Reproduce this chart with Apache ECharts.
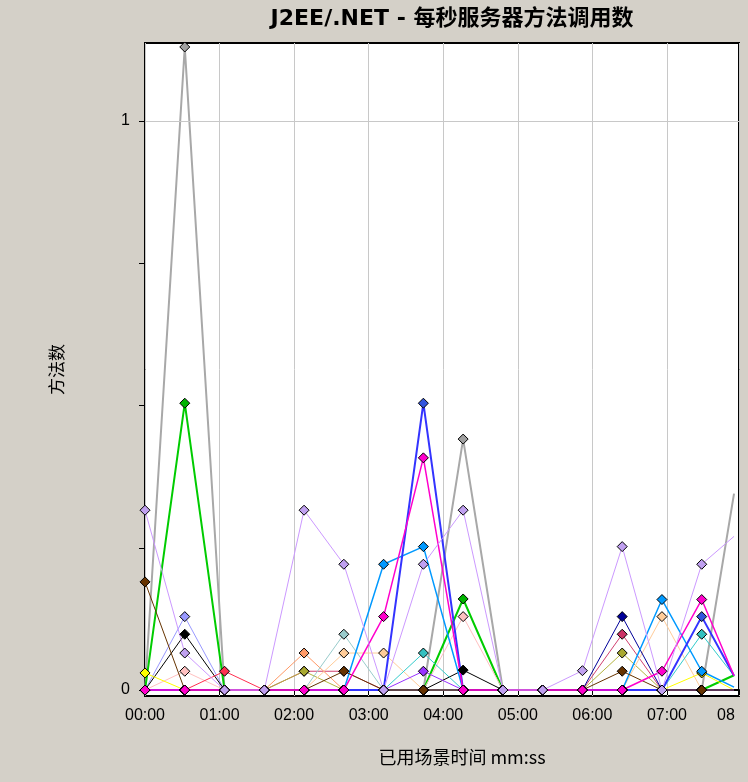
<!DOCTYPE html>
<html>
<head>
<meta charset="utf-8">
<script src="https://cdn.jsdelivr.net/npm/echarts@6/dist/echarts.min.js"></script>
<style>
html,body{margin:0;padding:0;background:#d4d0c8;}
#chart{width:748px;height:782px;}
</style>
</head>
<body>
<div id="chart"></div>
<script>
// elapsed time of each sample, in seconds
const times = [0, 32, 64, 96, 128, 160, 192, 224, 256, 288, 320, 352, 384, 416, 448, 474];
// y tick marks and tick labels
const yTicks = [0, 0.25, 0.5, 0.75, 1];
const yTickLabels = [0, 1];
const yGridLines = [1];
// series values (methods per second)
const grey       = [0, 1.13, 0, 0, 0, 0, 0, 0, 0.441, 0, 0, 0, 0, 0, 0, 0.345];
const green      = [0, 0.504, 0, 0, 0, 0, 0, 0, 0.16, 0, 0, 0, 0, 0, 0, 0.026];
const periwinkle = [0, 0.129, 0, 0, 0, 0, 0, 0, 0, 0, 0, 0, 0, 0, 0, 0];
const black      = [0, 0.098, 0, 0, 0, 0, 0, 0, 0.035, 0, 0, 0, 0, 0, 0, 0];
const lightPink  = [0, 0.033, 0, 0, 0, 0, 0, 0, 0.129, 0, 0, 0, 0, 0, 0, 0];
const yellow     = [0.03, 0, 0, 0, 0, 0, 0, 0, 0, 0, 0, 0, 0, 0, 0.03, 0];
const red        = [0, 0, 0.033, 0, 0, 0, 0, 0, 0, 0, 0, 0, 0, 0, 0, 0];
const crimson    = [0, 0, 0, 0, 0.033, 0.033, 0, 0, 0, 0, 0, 0, 0.098, 0, 0, 0];
const orange     = [0, 0, 0, 0, 0.065, 0, 0, 0, 0, 0, 0, 0, 0, 0, 0, 0];
const olive      = [0, 0, 0, 0, 0.033, 0, 0, 0, 0, 0, 0, 0, 0.065, 0, 0, 0];
const peach      = [0, 0, 0, 0, 0, 0.065, 0.065, 0, 0, 0, 0, 0, 0, 0.129, 0, 0];
const lightTeal  = [0, 0, 0, 0, 0, 0.098, 0, 0, 0, 0, 0, 0, 0, 0, 0, 0];
const teal       = [0, 0, 0, 0, 0, 0, 0, 0.065, 0, 0, 0, 0, 0, 0, 0.098, 0.025];
const purple     = [0, 0, 0, 0, 0, 0, 0, 0.033, 0, 0, 0, 0, 0, 0, 0, 0];
const navy       = [0, 0, 0, 0, 0, 0, 0, 0, 0, 0, 0, 0, 0.129, 0, 0, 0];
const skyBlue    = [0, 0, 0, 0, 0, 0, 0.221, 0.252, 0, 0, 0, 0, 0, 0.159, 0.033, 0.005];
const blue       = [0, 0, 0, 0, 0, 0, 0, 0.504, 0, 0, 0, 0, 0, 0, 0.129, 0.025];
const brown      = [0.19, 0, 0, 0, 0, 0.033, 0, 0, 0, 0, 0, 0, 0.033, 0, 0, 0];
const magenta    = [0, 0, 0, 0, 0, 0, 0.129, 0.408, 0, 0, 0, 0, 0, 0.033, 0.159, 0.025];
const lavender   = [0.316, 0.065, 0, 0, 0.316, 0.221, 0, 0.221, 0.316, 0, 0, 0.034, 0.252, 0, 0.221, 0.27];

const seriesDefs = [
  ['grey', grey, '#a8a8a8', '#a0a0a0', 2],
  ['green', green, '#00cc00', '#00b400', 2],
  ['periwinkle', periwinkle, '#9999ff', '#9999ff', 1],
  ['black', black, '#000000', '#000000', 1],
  ['lightPink', lightPink, '#ffc0c0', '#ffc0c0', 1],
  ['yellow', yellow, '#ffff00', '#ffff00', 1],
  ['red', red, '#ff3050', '#ff3050', 1],
  ['crimson', crimson, '#d04070', '#cc3366', 1],
  ['orange', orange, '#ff9966', '#ff9966', 1],
  ['olive', olive, '#b4b440', '#a8a830', 1],
  ['peach', peach, '#ffcc99', '#ffcc99', 1],
  ['lightTeal', lightTeal, '#99cccc', '#99cccc', 1],
  ['teal', teal, '#33cccc', '#33c0c0', 1],
  ['purple', purple, '#9933ff', '#9933ff', 1],
  ['navy', navy, '#000099', '#000099', 1],
  ['skyBlue', skyBlue, '#0099ff', '#0099ff', 1.5],
  ['blue', blue, '#3333ff', '#3355dd', 2],
  ['brown', brown, '#663300', '#663300', 1],
  ['magenta', magenta, '#ff00cc', '#ff00cc', 1.5],
  ['lavender', lavender, '#cc99ff', '#c0a0f0', 1]
];

function mmss(v) {
  const m = Math.floor(v / 60), s = Math.round(v % 60);
  return String(m).padStart(2, '0') + ':' + String(s).padStart(2, '0');
}

const last = times.length - 1;
const series = seriesDefs.map(function (d, k) {
  const s = {
    name: d[0],
    type: 'line',
    data: d[1].map(function (v, i) {
      const item = { value: [times[i], v] };
      if (i === last) item.symbol = 'none';
      return item;
    }),
    symbol: 'diamond',
    symbolSize: 10,
    itemStyle: { color: d[3], borderColor: '#000', borderWidth: 1 },
    lineStyle: { color: d[2], width: d[4] },
    emphasis: { disabled: true },
    silent: true
  };
  if (k === 0) {
    s.markLine = {
      silent: true, symbol: 'none', label: { show: false },
      lineStyle: { color: '#c8c8c8', width: 1, type: 'solid' },
      data: yGridLines.map(function (v) { return { yAxis: v }; })
    };
  }
  return s;
});

const chart = echarts.init(document.getElementById('chart'), null, { renderer: 'canvas' });
const labelFont = 'Liberation Sans';
const cjkFont = '"Noto Sans CJK SC", "DejaVu Sans", sans-serif';

chart.setOption({
  animation: false,
  backgroundColor: '#d4d0c8',
  title: [
    {
      text: 'J2EE/.NET - 每秒服务器方法调用数',
      left: 452, top: 8, textAlign: 'center', padding: 0,
      textStyle: { fontSize: 22, fontWeight: 'bold', color: '#000', fontFamily: '"DejaVu Sans", "Noto Sans CJK SC", sans-serif' }
    },
    {
      text: '已用场景时间 mm:ss',
      left: 462, top: 748, textAlign: 'center', padding: 0,
      textStyle: { fontSize: 18, fontWeight: 'normal', color: '#000', fontFamily: cjkFont }
    }
  ],
  grid: { left: 145, right: 9, top: 43, bottom: 86, show: true, backgroundColor: '#ffffff', borderColor: '#000', borderWidth: 2 },
  xAxis: {
    type: 'value', min: 0, max: 478, interval: 60,
    axisLine: { show: true, lineStyle: { color: '#000', width: 2 } },
    axisTick: { show: true, length: 5, lineStyle: { color: '#000', width: 1 } },
    axisLabel: {
      margin: 12, color: '#000', fontSize: 16, fontFamily: labelFont,
      formatter: function (v) { return (v % 60 === 0) ? mmss(v) : '{r|08}'; },
      rich: { r: { fontSize: 16, fontFamily: labelFont, color: '#000', padding: [0, 26, 0, 0] } }
    },
    splitLine: { show: true, lineStyle: { color: '#c8c8c8', width: 1 } }
  },
  yAxis: {
    type: 'value', min: -0.0105, max: 1.137,
    name: '方法数', nameLocation: 'middle', nameGap: 80,
    nameTextStyle: { fontSize: 17, color: '#000', fontFamily: cjkFont },
    axisLine: { show: false },
    axisTick: { show: true, length: 6, customValues: yTicks, lineStyle: { color: '#000', width: 1 } },
    axisLabel: {
      margin: 15, color: '#000', fontSize: 16, fontFamily: labelFont,
      customValues: yTickLabels,
      formatter: function (v) { return String(v); }
    },
    splitLine: { show: false }
  },
  series: series
});
</script>
</body>
</html>
